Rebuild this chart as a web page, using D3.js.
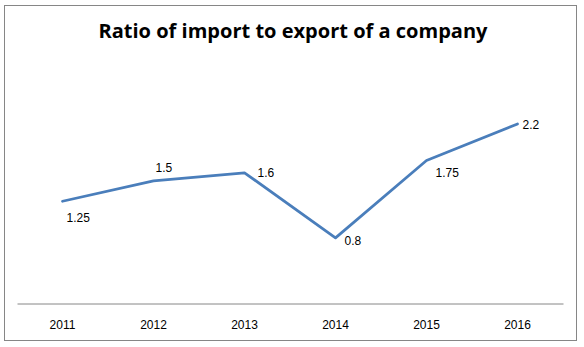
<!DOCTYPE html>
<html>
<head>
<meta charset="utf-8">
<script src="https://cdn.jsdelivr.net/npm/d3@7"></script>
<style>
  html, body { margin: 0; padding: 0; background: #fff; }
  svg { display: block; }
</style>
</head>
<body>
<svg id="chart" width="584" height="347"></svg>
<script>
const years = ["2011", "2012", "2013", "2014", "2015", "2016"];
const ratios = [1.25, 1.5, 1.6, 0.8, 1.75, 2.2];
const titleText = "Ratio of import to export of a company";

// label placement offsets (layout only)
const labelDx = [4, 2, 13, 9, 9, 5];
const labelDy = [17, -13, 0, 3, 12, 1];

const svg = d3.select("#chart");
const W = 584, H = 347;

svg.append("rect")
  .attr("x", 4.5).attr("y", 5.5)
  .attr("width", 572).attr("height", 335)
  .attr("fill", "#fff")
  .attr("stroke", "#868686")
  .attr("stroke-width", 1);

svg.append("text")
  .attr("x", 293).attr("y", 38)
  .attr("text-anchor", "middle")
  .attr("font-family", "'Open Sans', 'Liberation Sans', sans-serif")
  .attr("font-weight", "bold")
  .attr("font-size", 20)
  .attr("textLength", 389)
  .attr("lengthAdjust", "spacingAndGlyphs")
  .attr("fill", "#000")
  .text(titleText);

const x = d3.scaleBand().domain(years).range([17, 563]);
const y = d3.scaleLinear().domain([0, 2.5]).range([303, 99.5]);

const xAxis = svg.append("g")
  .attr("transform", "translate(0,303.5)")
  .call(d3.axisBottom(x).tickSize(0).tickPadding(17));
xAxis.select(".domain").attr("stroke", "#868686").attr("stroke-width", 1);
xAxis.selectAll("text")
  .attr("font-family", "'Liberation Sans', Arial, sans-serif")
  .attr("font-size", 12)
  .attr("fill", "#000");

const cx = d => x(d) + x.bandwidth() / 2;

const line = d3.line()
  .x((d, i) => cx(years[i]))
  .y(d => y(d));

svg.append("path")
  .datum(ratios)
  .attr("d", line)
  .attr("fill", "none")
  .attr("stroke", "#4a7ebb")
  .attr("stroke-width", 2.75)
  .attr("stroke-linejoin", "round")
  .attr("stroke-linecap", "round");

svg.selectAll("text.lbl")
  .data(ratios)
  .join("text")
  .attr("class", "lbl")
  .attr("x", (d, i) => cx(years[i]) + labelDx[i])
  .attr("y", (d, i) => y(d) + labelDy[i])
  .attr("dy", "0.35em")
  .attr("font-family", "'Liberation Sans', Arial, sans-serif")
  .attr("font-size", 12)
  .attr("fill", "#000")
  .text(d => String(d));
</script>
</body>
</html>
